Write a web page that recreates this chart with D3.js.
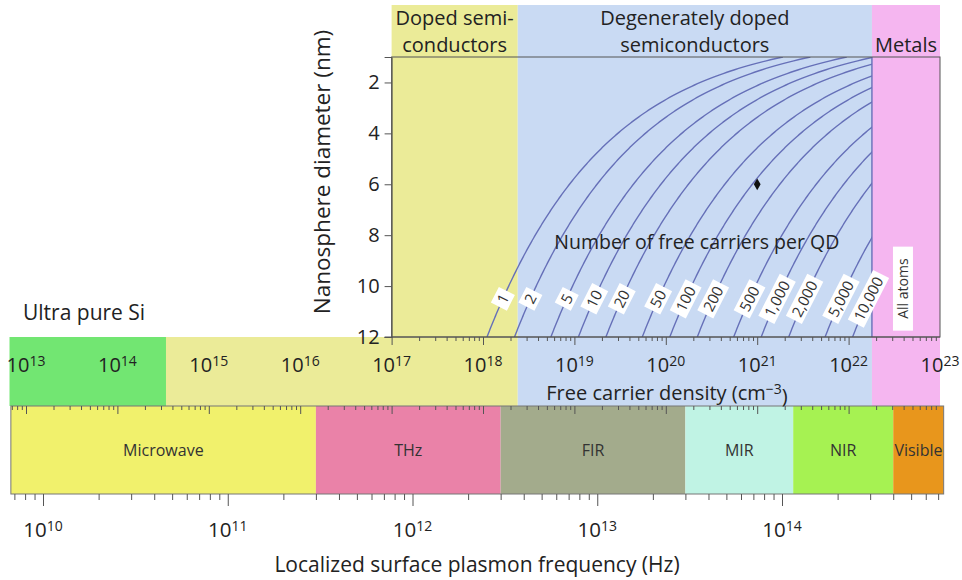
<!DOCTYPE html>
<html>
<head>
<meta charset="utf-8">
<script src="https://cdn.jsdelivr.net/npm/d3@7"></script>
<style>
  body { margin: 0; background: #fff; }
  svg { display: block; font-family: "Open Sans", sans-serif; }
</style>
</head>
<body>
<div id="chart"></div>
<script>
// ---- data ----
const carrierCounts = [1, 2, 5, 10, 20, 50, 100, 200, 500, 1000, 2000, 5000, 10000];
const countLabels = ["1", "2", "5", "10", "20", "50", "100", "200", "500", "1,000", "2,000", "5,000", "10,000"];

// carrier density regimes (cm^-3)
const regimeNames = [["Doped semi-", "conductors"], ["Degenerately doped", "semiconductors"], ["Metals"]];
const regimeEdges = [1e17, 2.4e18, 1.8e22, 1e23];

// lower strip of the density band
const stripEdges = [6.6e12, 3.4e14, 1e17];

const densityExponents = [13, 14, 15, 16, 17, 18, 19, 20, 21, 22, 23];
const diameterTicks = [2, 4, 6, 8, 10, 12];

// spectral ranges (Hz)
const spectrumNames = ["Microwave", "THz", "FIR", "MIR", "NIR", "Visible"];
const spectrumEdges = [6.7e9, 3e11, 3e12, 3e13, 1.15e14, 4e14, 7.5e14];
const freqExponents = [10, 11, 12, 13, 14];

// highlighted point
const markerDensity = [1e21];
const markerDiameter = [6];

// ---- layout ----
const width = 962, height = 580;
const headerTop = 5, bandBottom = 406, freqBottom = 494;
const labelDiameter = 10.5;

const yellow = "#ebeb98", blue = "#c9daf3", pink = "#f5b6f0", green = "#72e672";
const spectrumColors = ["#f1f16c", "#ea82a8", "#a3ab8c", "#c0f3e4", "#a6f252", "#e8961c"];
const curveColor = "#6670b8";

const svg = d3.select("#chart")
  .append("svg")
    .attr("width", width)
    .attr("height", height);

const x = d3.scaleLog().domain([1e13, 1e23]).range([26, 940]);
const y = d3.scaleLinear().domain([1, 12]).range([57, 337]);
const f = d3.scaleLog().domain([1e10, 1e14]).range([43, 782]);

// ---- background regions ----
const regimeColors = [yellow, blue, pink];
svg.selectAll("rect.regime")
  .data(regimeColors)
  .join("rect")
    .attr("class", "regime")
    .attr("x", (d, i) => x(regimeEdges[i]))
    .attr("width", (d, i) => x(regimeEdges[i + 1]) - x(regimeEdges[i]))
    .attr("y", headerTop)
    .attr("height", bandBottom - headerTop)
    .attr("fill", d => d);

const stripColors = [green, yellow];
svg.selectAll("rect.strip")
  .data(stripColors)
  .join("rect")
    .attr("class", "strip")
    .attr("x", (d, i) => x(stripEdges[i]))
    .attr("width", (d, i) => x(stripEdges[i + 1]) - x(stripEdges[i]) + 0.5)
    .attr("y", y(12))
    .attr("height", bandBottom - y(12))
    .attr("fill", d => d);

// spectrum band
svg.selectAll("rect.spec")
  .data(spectrumNames)
  .join("rect")
    .attr("class", "spec")
    .attr("x", (d, i) => f(spectrumEdges[i]))
    .attr("width", (d, i) => f(spectrumEdges[i + 1]) - f(spectrumEdges[i]))
    .attr("y", bandBottom)
    .attr("height", freqBottom - bandBottom)
    .attr("fill", (d, i) => spectrumColors[i]);

svg.append("rect")
  .attr("x", f(spectrumEdges[0]))
  .attr("width", f(spectrumEdges[spectrumEdges.length - 1]) - f(spectrumEdges[0]))
  .attr("y", bandBottom)
  .attr("height", freqBottom - bandBottom)
  .attr("fill", "none")
  .attr("stroke", "#777")
  .attr("stroke-width", 1);

svg.selectAll("text.spec")
  .data(spectrumNames)
  .join("text")
    .attr("class", "spec")
    .attr("x", (d, i) => (f(spectrumEdges[i]) + f(spectrumEdges[i + 1])) / 2)
    .attr("y", (bandBottom + freqBottom) / 2 + 6)
    .attr("text-anchor", "middle")
    .style("font-size", "16px")
    .style("fill", "#333")
    .text(d => d);

// ---- header labels ----
regimeNames.forEach((lines, i) => {
  const cx = (x(regimeEdges[i]) + x(regimeEdges[i + 1])) / 2;
  const t = svg.append("text")
    .attr("text-anchor", "middle")
    .style("font-size", "20px")
    .style("fill", "#222");
  lines.forEach((line, j) => {
    t.append("tspan")
      .attr("x", cx)
      .attr("y", lines.length === 1 ? 52 : 25 + j * 27)
      .text(line);
  });
});

// ---- curves of constant carrier number per QD ----
// n = N / (pi/6 * d^3), d in nm -> cm^3
const density = (N, d) => N / (Math.PI / 6 * Math.pow(d * 1e-7, 3));

svg.append("clipPath")
  .attr("id", "plotClip")
  .append("rect")
    .attr("x", x(1e17))
    .attr("y", y(1))
    .attr("width", x(regimeEdges[2]) - x(1e17))
    .attr("height", y(12) - y(1));

const diameters = d3.range(1, 12.001, 0.05);
const line = d3.line()
  .x(d => x(d[0]))
  .y(d => y(d[1]));

svg.append("g")
  .attr("clip-path", "url(#plotClip)")
  .selectAll("path")
  .data(carrierCounts)
  .join("path")
    .attr("fill", "none")
    .attr("stroke", curveColor)
    .attr("stroke-width", 1.4)
    .attr("d", N => line(diameters.map(d => [density(N, d), d])));

// metals boundary
svg.append("line")
  .attr("x1", x(regimeEdges[2])).attr("x2", x(regimeEdges[2]))
  .attr("y1", y(1)).attr("y2", y(12))
  .attr("stroke", curveColor)
  .attr("stroke-width", 1.4);

// plot frame
svg.append("rect")
  .attr("x", x(1e17))
  .attr("y", y(1))
  .attr("width", x(1e23) - x(1e17))
  .attr("height", y(12) - y(1))
  .attr("fill", "none")
  .attr("stroke", "#555")
  .attr("stroke-width", 1);

// curve labels
const labels = svg.selectAll("g.clabel")
  .data(carrierCounts)
  .join("g")
    .attr("class", "clabel")
    .attr("transform", N => `translate(${x(density(N, labelDiameter))},${y(labelDiameter)}) rotate(-63)`);

labels.append("text")
  .attr("text-anchor", "middle")
  .attr("dy", "0.36em")
  .style("font-size", "15px")
  .style("fill", "#333")
  .text((d, i) => countLabels[i]);

labels.insert("rect", "text")
  .attr("fill", "#fff")
  .each(function() {
    const w = this.parentNode.querySelector("text").getComputedTextLength() + 9;
    d3.select(this)
      .attr("x", -w / 2)
      .attr("width", w)
      .attr("y", -9)
      .attr("height", 18);
  });

// "All atoms"
const atoms = svg.append("g")
  .attr("transform", `translate(${(x(regimeEdges[2]) + x(1e23)) / 2 - 3},${y(10.1)}) rotate(-90)`);
atoms.append("rect")
  .attr("x", -42).attr("width", 84)
  .attr("y", -10).attr("height", 20)
  .attr("fill", "#fff");
atoms.append("text")
  .attr("text-anchor", "middle")
  .attr("dy", "0.36em")
  .style("font-size", "14px")
  .style("fill", "#333")
  .text("All atoms");

svg.append("text")
  .attr("x", (x(regimeEdges[1]) + x(regimeEdges[2])) / 2 + 2)
  .attr("y", y(8.55))
  .attr("text-anchor", "middle")
  .style("font-size", "19.5px")
  .style("fill", "#222")
  .text("Number of free carriers per QD");

// marker
svg.selectAll("path.marker")
  .data(markerDensity)
  .join("path")
    .attr("class", "marker")
    .attr("transform", (d, i) => `translate(${x(d)},${y(markerDiameter[i])})`)
    .attr("d", d3.symbol(d3.symbolDiamond, 40))
    .attr("fill", "#111");

// ---- axes ----
// y axis: nanosphere diameter
const yAxis = svg.append("g")
  .attr("transform", `translate(${x(1e17)},0)`)
  .call(d3.axisLeft(y).tickValues(diameterTicks).tickSize(7).tickPadding(5));
yAxis.select(".domain").attr("stroke", "#555");
yAxis.selectAll(".tick line").attr("stroke", "#555");
yAxis.selectAll(".tick text")
  .style("font-size", "20px")
  .style("font-family", "'Open Sans', sans-serif")
  .style("fill", "#222");

svg.append("text")
  .attr("transform", `translate(${x(1e17) - 62},${(y(1) + y(12)) / 2 - 25}) rotate(-90)`)
  .attr("text-anchor", "middle")
  .style("font-size", "22.5px")
  .style("fill", "#222")
  .text("Nanosphere diameter (nm)");

// log tick helper
function logTicks(lo, hi) {
  const major = [], minor = [];
  for (let e = Math.floor(Math.log10(lo)); e <= Math.ceil(Math.log10(hi)); e++) {
    for (let k = 1; k <= 9; k++) {
      const v = k * Math.pow(10, e);
      if (v < lo || v > hi) continue;
      (k === 1 ? major : minor).push(v);
    }
  }
  return {major, minor};
}

function tickAxis(scale, values, size, yPos) {
  const g = svg.append("g")
    .attr("transform", `translate(0,${yPos})`)
    .call(d3.axisBottom(scale).tickValues(values).tickSize(size).tickFormat(""));
  g.select(".domain").remove();
  g.selectAll(".tick line").attr("stroke", "#555");
  return g;
}

// density ticks on plot bottom edge
const plotTicks = logTicks(1e17, 1e23);
tickAxis(x, plotTicks.minor, 4, y(12));
tickAxis(x, plotTicks.major, 8, y(12));
svg.append("line")
  .attr("x1", x(1e17) - 7).attr("x2", x(1e23))
  .attr("y1", y(12)).attr("y2", y(12))
  .attr("stroke", "#555");

// density ticks on lower band edge
const bandTicks = logTicks(7e12, 1e23);
tickAxis(x, bandTicks.minor, 4, bandBottom);
tickAxis(x, bandTicks.major, 8, bandBottom);

// frequency ticks under spectrum band
const freqTicks = logTicks(7e9, 7.5e14);
tickAxis(f, freqTicks.minor, 6, freqBottom);
tickAxis(f, freqTicks.major, 12, freqBottom);

// power-of-ten labels
function powerLabels(scale, exps, yPos, size) {
  const t = svg.selectAll(null)
    .data(exps)
    .join("text")
      .attr("x", e => scale(Math.pow(10, e)))
      .attr("y", yPos)
      .attr("text-anchor", "middle")
      .style("font-size", size + "px")
      .style("fill", "#222");
  t.append("tspan").text("10");
  t.append("tspan")
    .attr("dy", "-0.45em")
    .style("font-size", Math.round(size * 0.7) + "px")
    .text(e => e);
}

powerLabels(x, densityExponents, 372, 20);
powerLabels(f, freqExponents, 537, 20.5);

const dTitle = svg.append("text")
  .attr("x", 667)
  .attr("y", 400)
  .attr("text-anchor", "middle")
  .style("font-size", "20px")
  .style("fill", "#222");
dTitle.append("tspan").text("Free carrier density (cm");
dTitle.append("tspan").attr("dy", "-0.45em").style("font-size", "14px").text("\u22123");
dTitle.append("tspan").attr("dy", "0.45em").text(")");

svg.append("text")
  .attr("x", 477)
  .attr("y", 572)
  .attr("text-anchor", "middle")
  .style("font-size", "21px")
  .style("fill", "#222")
  .text("Localized surface plasmon frequency (Hz)");

svg.append("text")
  .attr("x", 23)
  .attr("y", 320)
  .style("font-size", "21px")
  .style("fill", "#222")
  .text("Ultra pure Si");
</script>
</body>
</html>
